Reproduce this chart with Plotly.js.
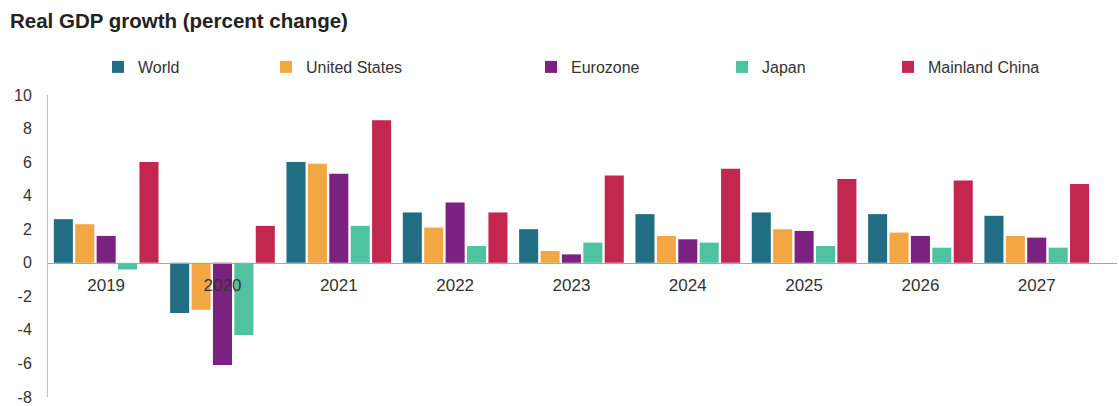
<!DOCTYPE html>
<html>
<head>
<meta charset="utf-8">
<script src="https://cdn.plot.ly/plotly-3.0.1.min.js"></script>
<style>html,body{margin:0;padding:0;background:#fff;}#chart{width:1119px;height:406px;}</style>
</head>
<body>
<div id="chart"></div>
<script>
const years = ["2019","2020","2021","2022","2023","2024","2025","2026","2027"];
const world = [2.6, -3.0, 6.0, 3.0, 2.0, 2.9, 3.0, 2.9, 2.8];
const unitedStates = [2.3, -2.8, 5.9, 2.1, 0.7, 1.6, 2.0, 1.8, 1.6];
const eurozone = [1.6, -6.1, 5.3, 3.6, 0.5, 1.4, 1.9, 1.6, 1.5];
const japan = [-0.4, -4.3, 2.2, 1.0, 1.2, 1.2, 1.0, 0.9, 0.9];
const mainlandChina = [6.0, 2.2, 8.5, 3.0, 5.2, 5.6, 5.0, 4.9, 4.7];
const seriesNames = ["World","United States","Eurozone","Japan","Mainland China"];
const yTicks = [-8,-6,-4,-2,0,2,4,6,8,10];

const colors = ["#216d84","#f3a743","#7b2181","#4fc29f","#c3264f"];
const legendX = [98, 266, 531, 722, 888];
const allValues = [world, unitedStates, eurozone, japan, mainlandChina];
const legendKeys = ["legend","legend2","legend3","legend4","legend5"];

const traces = allValues.map((vals, i) => ({
  type: "bar",
  name: seriesNames[i],
  x: years,
  y: vals,
  marker: {color: colors[i]},
  legend: legendKeys[i],
  hoverinfo: "x+y+name"
}));

const font = {family: "'Liberation Sans', Arial, sans-serif", color: "#333"};
const layout = {
  width: 1119, height: 406,
  margin: {l: 48, r: 2, t: 95, b: 9},
  paper_bgcolor: "#fff", plot_bgcolor: "#fff",
  font: font,
  title: {
    text: "<b>Real GDP growth (percent change)</b>",
    font: {family: font.family, size: 20.5, color: "#222"},
    xref: "container", yref: "container",
    x: 10/1119, xanchor: "left", y: 1 - 21/406, yanchor: "middle"
  },
  barmode: "group",
  bargap: 0.08,
  bargroupgap: 0.11,
  showlegend: true,
  xaxis: {
    type: "category",
    range: [-0.5, 8.69],
    anchor: "free",
    position: 8/18,
    showline: true, linecolor: "#a6a6a6", linewidth: 1,
    ticks: "", showgrid: false, zeroline: false,
    tickfont: {family: font.family, size: 17, color: "#333"},
    ticklabelstandoff: 7
  },
  yaxis: {
    range: [-8, 10],
    tickvals: yTicks,
    ticktext: yTicks.map(String),
    showline: true, linecolor: "#bfbfbf", linewidth: 1,
    ticks: "", showgrid: false, zeroline: false,
    tickfont: {family: font.family, size: 16, color: "#333"},
    ticklabelstandoff: 12,
    ticklabeloverflow: "allow"
  }
};
legendKeys.forEach((k, i) => {
  layout[k] = {
    orientation: "h",
    xref: "container", yref: "container",
    x: legendX[i]/1119, xanchor: "left",
    y: 1 - 67/406, yanchor: "middle",
    font: {family: font.family, size: 16, color: "#333"},
    bgcolor: "rgba(0,0,0,0)",
    itemwidth: 30
  };
});

Plotly.newPlot("chart", traces, layout, {displayModeBar: false, staticPlot: true});
</script>
</body>
</html>
